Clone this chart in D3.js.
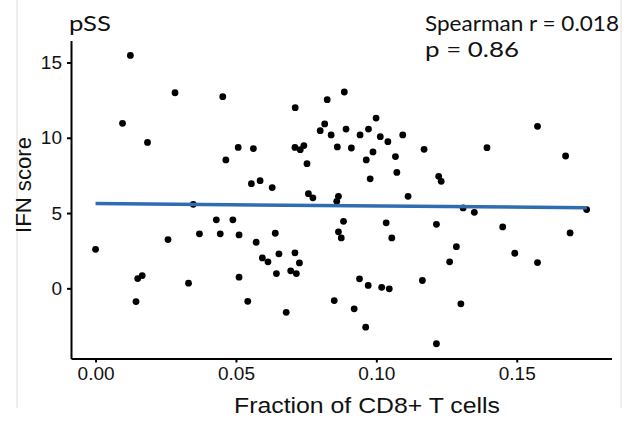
<!DOCTYPE html>
<html><head><meta charset="utf-8">
<script src="https://cdn.jsdelivr.net/npm/d3@7"></script>
<style>body{margin:0;background:#fff}svg{display:block}</style>
</head><body><svg id="c" width="637" height="422"></svg>
<script>
// Fraction of CD8+ T cells (x) and IFN score (y), one entry per sample
const cd8Fraction = [0.0124,0.0283,0.0096,0.0185,0.0453,0.0711,0.0825,0.0886,0.0816,0.0800,
0.0839,0.0892,0.0508,0.0562,0.0464,0.0710,0.0742,0.0729,0.0753,0.0861,
0.0911,0.0555,0.0586,0.0629,0.0758,0.0774,0.0865,0.0859,0.0999,0.0972,
0.0942,0.1014,0.1041,0.1094,0.0988,0.0964,0.1068,0.1170,0.1394,0.0978,
0.1073,0.1222,0.1231,0.1113,0.1574,0.1674,0.0348,0.0370,0.0258,0.0000,
0.0150,0.0166,0.0331,0.0144,0.0430,0.0489,0.0444,0.0511,0.0572,0.0640,
0.0883,0.0865,0.0875,0.0594,0.0614,0.0653,0.0710,0.0726,0.0644,0.0695,
0.0715,0.0511,0.0542,0.0679,0.0850,0.1309,0.1349,0.1035,0.1214,0.1055,
0.1285,0.1261,0.0940,0.0971,0.1019,0.1046,0.1164,0.1301,0.0921,0.0962,
0.1214,0.1749,0.1450,0.1690,0.1493,0.1574];
const ifnScore = [15.47,12.99,10.96,9.69,12.73,12.00,12.53,13.04,10.92,10.47,
10.19,10.58,9.36,9.28,8.53,9.36,9.48,9.21,8.28,9.39,
9.32,6.95,7.15,6.69,6.29,6.01,6.11,5.78,11.31,10.58,
10.19,10.07,9.74,10.19,9.06,8.53,8.75,9.23,9.34,7.27,
7.70,7.44,7.11,6.11,10.76,8.79,5.58,3.62,3.24,2.59,
0.65,0.85,0.34,-0.88,4.55,4.55,3.62,3.55,3.06,3.66,
4.45,3.75,3.35,2.02,1.76,2.29,2.36,1.69,0.98,1.16,
0.98,0.74,-0.86,-1.59,-0.81,5.34,5.05,4.35,4.25,3.35,
2.77,1.76,0.63,0.19,0.07,-0.03,0.52,-1.03,-1.36,-2.58,
-3.68,5.23,4.08,3.68,2.33,1.71];
const xTicks = [0, 0.05, 0.10, 0.15];
const yTicks = [0, 5, 10, 15];
const fitX = [0, 0.175];
const fitY = [5.63, 5.36];
const titleText = "pSS";
const statLines = ["Spearman r = 0.018", "p = 0.86"];
const xLabel = "Fraction of CD8+ T cells";
const yLabel = "IFN score";

const svg = d3.select("#c");
const x = d3.scaleLinear().domain([-0.00875, 0.18375]).range([71, 611.5]);
const y = d3.scaleLinear().domain([-4.66, 16.46]).range([358.5, 40.5]);

// light frame
svg.append("g").selectAll("line").data([17, 621]).join("line")
  .attr("x1", d => d).attr("x2", d => d).attr("y1", 0).attr("y2", 408)
  .attr("stroke", "#dcdcdc").attr("stroke-width", 1);

const axisFont = "'Liberation Sans', Arial, sans-serif";

const gx = svg.append("g").attr("transform", "translate(0,358.5)")
  .call(d3.axisBottom(x).tickValues(xTicks).tickFormat(d3.format(".2f"))
        .tickSize(4).tickSizeOuter(0).tickPadding(4));
const gy = svg.append("g").attr("transform", "translate(71,0)")
  .call(d3.axisLeft(y).tickValues(yTicks).tickFormat(d3.format("d"))
        .tickSize(4).tickSizeOuter(0).tickPadding(5));
[gx, gy].forEach(g => {
  g.select(".domain").attr("stroke", "#000").attr("stroke-width", 2);
  g.selectAll(".tick line").attr("stroke", "#000").attr("stroke-width", 2);
  g.selectAll(".tick text").attr("fill", "#111").style("font-family", axisFont).style("font-size", "19px");
});

// points
svg.append("g").selectAll("circle").data(cd8Fraction).join("circle")
  .attr("cx", d => x(d)).attr("cy", (d, i) => y(ifnScore[i])).attr("r", 3.4).attr("fill", "#000");

// fit line
svg.append("path").datum(fitX.map((d, i) => [d, fitY[i]]))
  .attr("d", d3.line().x(d => x(d[0])).y(d => y(d[1])))
  .attr("fill", "none").attr("stroke", "#2f6db1").attr("stroke-width", 3.5);

// axis titles
svg.append("text").attr("x", 367).attr("y", 413).attr("text-anchor", "middle")
  .attr("textLength", 266).attr("lengthAdjust", "spacingAndGlyphs")
  .style("font-family", axisFont).style("font-size", "22px").attr("fill", "#111").text(xLabel);
svg.append("text").attr("transform", "translate(31,185) rotate(-90)").attr("text-anchor", "middle")
  .attr("textLength", 96).attr("lengthAdjust", "spacingAndGlyphs")
  .style("font-family", axisFont).style("font-size", "22px").attr("fill", "#111").text(yLabel);

// title & stats
const annFont = "Lato, 'Open Sans', sans-serif";
svg.append("text").attr("x", 69).attr("y", 31)
  .attr("textLength", 42).attr("lengthAdjust", "spacingAndGlyphs")
  .style("font-family", annFont).style("font-size", "22px").attr("fill", "#111").text(titleText);
const statLen = [194, 94];
svg.append("g").selectAll("text").data(statLines).join("text")
  .attr("x", 425).attr("y", (d, i) => 31 + i * 26)
  .attr("textLength", (d, i) => statLen[i]).attr("lengthAdjust", "spacingAndGlyphs")
  .style("font-family", annFont).style("font-size", "22px").attr("fill", "#111").text(d => d);
</script>
</body></html>
